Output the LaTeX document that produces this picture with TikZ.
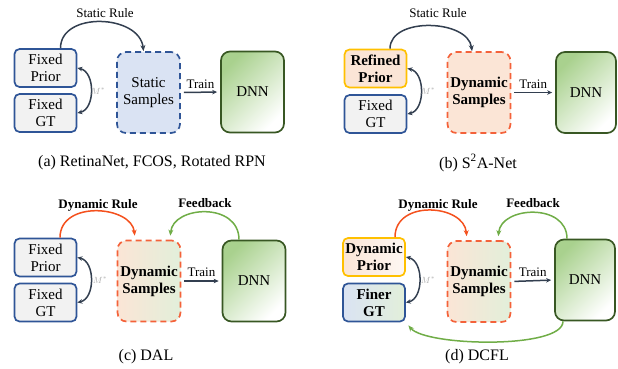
\documentclass[tikz,border=0pt]{standalone}
\usepackage{fontspec}
\setmainfont{Liberation Serif}
\usetikzlibrary{arrows.meta}
\definecolor{boxblue}{RGB}{47,85,151}
\definecolor{boxgray}{RGB}{242,242,242}
\definecolor{paleblue}{RGB}{218,227,243}
\definecolor{paleorange}{RGB}{251,229,214}
\definecolor{boxyellow}{RGB}{255,192,0}
\definecolor{dashred}{RGB}{244,98,58}
\definecolor{dnnborder}{RGB}{56,87,35}
\definecolor{dnngreen}{RGB}{169,209,142}
\definecolor{palegreen}{RGB}{226,239,218}
\definecolor{navy}{RGB}{51,63,80}
\definecolor{rulered}{RGB}{244,81,30}
\definecolor{fbgreen}{RGB}{112,173,71}
\tikzset{%
    smallbox/.style={draw, line width=1.7pt, rounded corners=5pt,
        minimum width=62pt, minimum height=38pt, inner sep=1pt,
        align=center, font=\fontsize{15}{17}\selectfont},
    bigbox/.style={draw, line width=1.7pt, rounded corners=9pt,
        minimum width=63pt, minimum height=81pt, inner sep=1pt,
        align=center, font=\fontsize{15}{17}\selectfont},
    sampbox/.style={bigbox, dash pattern=on 6pt off 4pt},
    dnnbox/.style={bigbox, draw=dnnborder, left color=dnngreen, right color=white,
        shading angle=45},
    arcarrow/.style={line width=1.5pt, -{Stealth[length=6pt,width=5pt]}},
    mstar/.style={line width=1.5pt, draw=navy,
        {Stealth[length=5pt,width=4.5pt]}-{Stealth[length=5pt,width=4.5pt]}},
    trainarrow/.style={line width=1.5pt, draw=navy, shorten <=3pt, shorten >=3pt,
        -{Stealth[length=5pt,width=4.5pt]}},
    mlab/.style={text=gray!65, font=\small},
    lab/.style={font=\fontsize{13}{15}\selectfont},
    boldlab/.style={font=\fontsize{13}{15}\selectfont\bfseries},
    capt/.style={font=\fontsize{16}{18}\selectfont}
}
\begin{document}
\begin{tikzpicture}[x=1pt, y=-1pt]
    \useasboundingbox (0,0) rectangle (618,368);
    % (a)
    \node[smallbox, draw=boxblue, fill=boxgray] (priorA) at (45.5,68) {Fixed\\Prior};
    \node[smallbox, draw=boxblue, fill=boxgray] (gtA) at (45.5,113) {Fixed\\GT};
    \node[sampbox, draw=boxblue, fill=paleblue] (sampA) at (148.5,92.5) {Static\\Samples};
    \node[dnnbox] (dnnA) at (252.5,92) {DNN};
    \draw[arcarrow, navy] ([xshift=15pt]priorA.north) .. controls +(0,-37) and +(-4,-37) .. ([xshift=-5pt]sampA.north);
    \node[lab] at (105,13) {Static Rule};
    \draw[mstar] (priorA.east) .. controls +(18,4) and +(18,-4) .. (gtA.east);
    \node[mlab] (mA) at (98,91) {$M^{*}$};
    \draw[trainarrow] (sampA.east) -- node[lab, above=0pt] {Train} (dnnA.west);
    \node[capt] at (152,163) {(a) RetinaNet, FCOS, Rotated RPN};
    % (b)
    \node[smallbox, draw=boxyellow, fill=paleorange, font=\fontsize{15}{17}\selectfont\bfseries] (priorB) at (375.5,68.5) {Refined\\Prior};
    \node[smallbox, draw=boxblue, fill=boxgray] (gtB) at (375.5,114) {Fixed\\GT};
    \node[sampbox, draw=dashred, fill=paleorange, font=\fontsize{15}{17}\selectfont\bfseries] (sampB) at (479,92.5) {Dynamic\\Samples};
    \node[dnnbox, minimum width=60pt] (dnnB) at (586,92.5) {DNN};
    \draw[arcarrow, navy] ([xshift=14.5pt]priorB.north) .. controls +(0,-32) and +(-4,-32) .. ([xshift=-7pt]sampB.north);
    \node[lab] at (438,13) {Static Rule};
    \draw[mstar] (priorB.east) .. controls +(18,4) and +(18,-4) .. (gtB.east);
    \node[mlab] (mB) at (428,91) {$M^{*}$};
    \draw[trainarrow] (sampB.east) -- node[lab, above=0pt] {Train} (dnnB.west);
    \node[capt] at (478,163) {(b) S\textsuperscript{2}A-Net};
    % (c)
    \node[smallbox, draw=boxblue, fill=boxgray] (priorC) at (45.5,257.5) {Fixed\\Prior};
    \node[smallbox, draw=boxblue, fill=boxgray] (gtC) at (45.5,302.5) {Fixed\\GT};
    \node[sampbox, draw=dashred, left color=paleorange, right color=palegreen, font=\fontsize{15}{17}\selectfont\bfseries] (sampC) at (149,281) {Dynamic\\Samples};
    \node[dnnbox] (dnnC) at (254,281) {DNN};
    \draw[arcarrow, rulered, shorten >=4pt] ([xshift=14.5pt]priorC.north) .. controls +(0,-38) and +(-3,-34) .. ([xshift=-14pt]sampC.north);
    \node[boldlab] at (98,205) {Dynamic Rule};
    \draw[arcarrow, fbgreen, shorten >=4pt] ([xshift=-15pt]dnnC.north) .. controls +(0,-38) and +(3,-34) .. ([xshift=21pt]sampC.north);
    \node[boldlab] at (205,203) {Feedback};
    \draw[mstar] (priorC.east) .. controls +(18,4) and +(18,-4) .. (gtC.east);
    \node[mlab] (mC) at (100,280) {$M^{*}$};
    \draw[trainarrow] (sampC.east) -- node[lab, above=0pt] {Train} (dnnC.west);
    \node[capt] at (146,357) {(c) DAL};
    % (d)
    \node[smallbox, draw=boxyellow, left color=paleorange, right color=paleorange!30, font=\fontsize{15}{17}\selectfont\bfseries] (priorD) at (374,257) {Dynamic\\Prior};
    \node[smallbox, draw=boxblue, left color=paleblue, right color=palegreen, font=\fontsize{15}{17}\selectfont\bfseries] (gtD) at (374,302.5) {Finer\\GT};
    \node[sampbox, draw=dashred, left color=paleorange, right color=palegreen, font=\fontsize{15}{17}\selectfont\bfseries] (sampD) at (479,281.5) {Dynamic\\Samples};
    \node[dnnbox, minimum width=60pt] (dnnD) at (585,280) {DNN};
    \draw[arcarrow, rulered, shorten >=4pt] ([xshift=21pt]priorD.north) .. controls +(0,-38) and +(-3,-36) .. ([xshift=-12pt]sampD.north);
    \node[boldlab] at (438,205) {Dynamic Rule};
    \draw[arcarrow, fbgreen, shorten >=4pt] ([xshift=-18pt]dnnD.north) .. controls +(0,-36) and +(3,-34) .. ([xshift=19pt]sampD.north);
    \node[boldlab] at (533,203) {Feedback};
    \draw[mstar] (priorD.east) .. controls +(18,4) and +(18,-4) .. (gtD.east);
    \node[mlab] (mD) at (428,280) {$M^{*}$};
    \draw[trainarrow] (sampD.east) -- node[lab, above=0pt] {Train} (dnnD.west);
    \draw[arcarrow, fbgreen, shorten >=4pt] ([xshift=-22pt]dnnD.south) .. controls +(0,28) and +(20,24) .. (gtD.south east);
    \node[capt] at (477,357) {(d) DCFL};
\end{tikzpicture}
\end{document}
